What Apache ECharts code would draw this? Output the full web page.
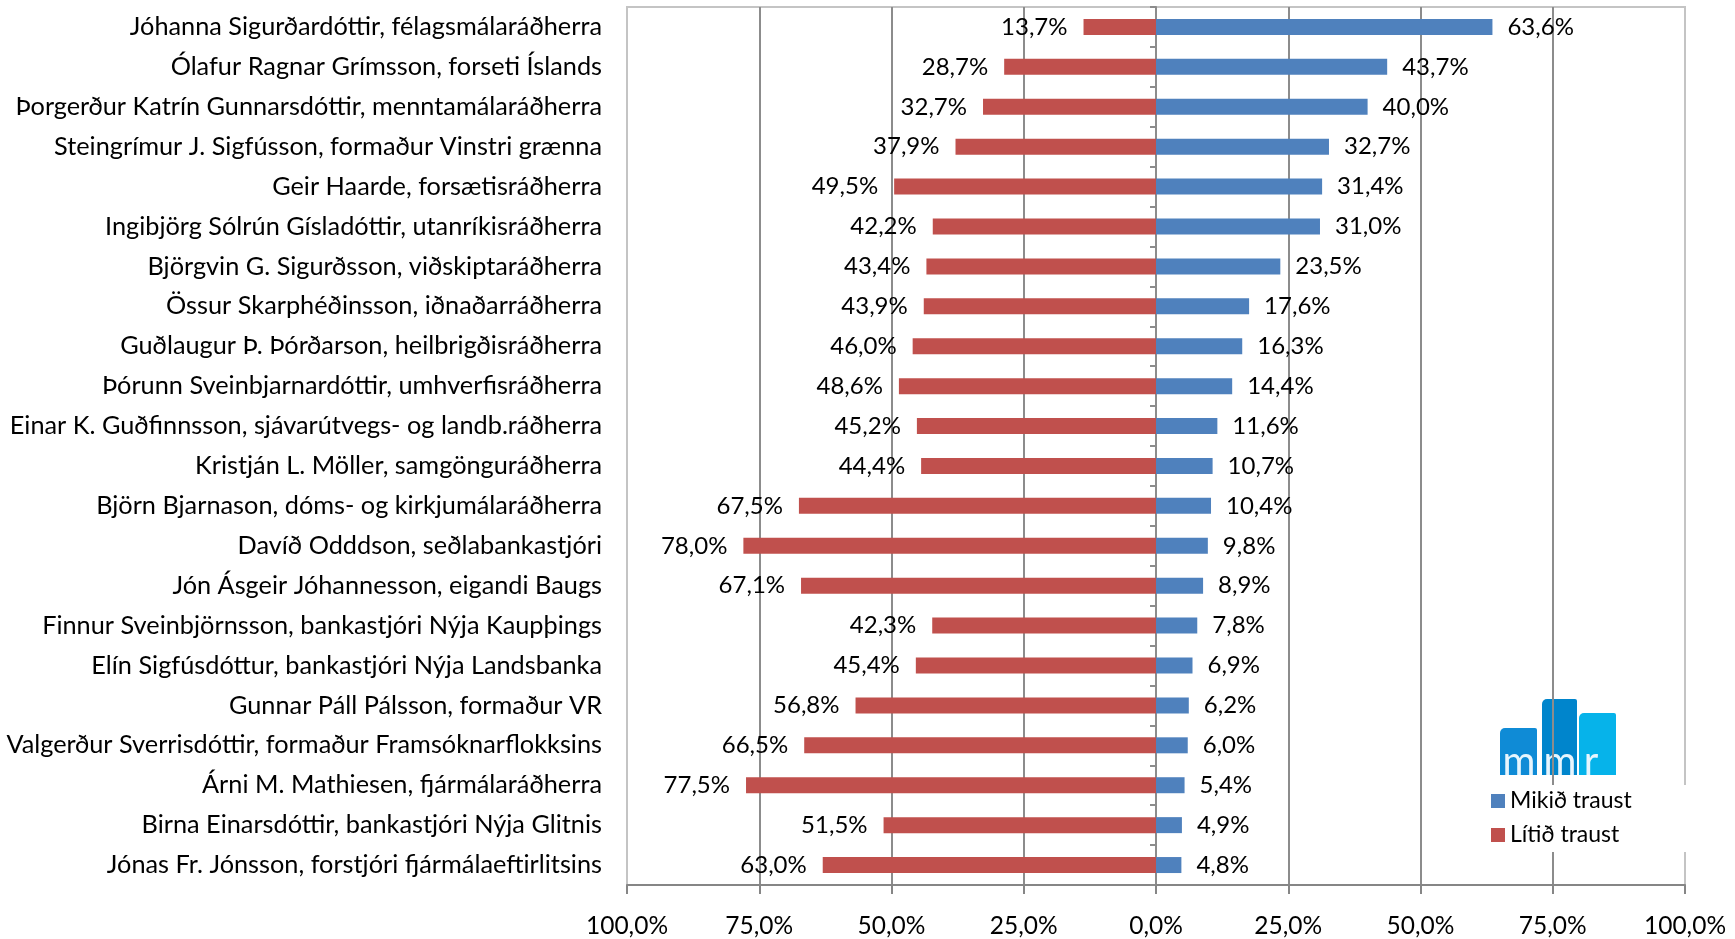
<!DOCTYPE html>
<html><head><meta charset="utf-8">
<script src="https://cdn.jsdelivr.net/npm/echarts@6/dist/echarts.min.js"></script>
<style>html,body{margin:0;padding:0;background:#fff}#c{width:1735px;height:939px}</style>
</head><body><div id="c"></div>
<script>
const categories = [
  'Jóhanna Sigurðardóttir, félagsmálaráðherra',
  'Ólafur Ragnar Grímsson, forseti Íslands',
  'Þorgerður Katrín Gunnarsdóttir, menntamálaráðherra',
  'Steingrímur J. Sigfússon, formaður Vinstri grænna',
  'Geir Haarde, forsætisráðherra',
  'Ingibjörg Sólrún Gísladóttir, utanríkisráðherra',
  'Björgvin G. Sigurðsson, viðskiptaráðherra',
  'Össur Skarphéðinsson, iðnaðarráðherra',
  'Guðlaugur Þ. Þórðarson, heilbrigðisráðherra',
  'Þórunn Sveinbjarnardóttir, umhverfisráðherra',
  'Einar K. Guðfinnsson, sjávarútvegs- og landb.ráðherra',
  'Kristján L. Möller, samgönguráðherra',
  'Björn Bjarnason, dóms- og kirkjumálaráðherra',
  'Davíð Odddson, seðlabankastjóri',
  'Jón Ásgeir Jóhannesson, eigandi Baugs',
  'Finnur Sveinbjörnsson, bankastjóri Nýja Kaupþings',
  'Elín Sigfúsdóttur, bankastjóri Nýja Landsbanka',
  'Gunnar Páll Pálsson, formaður VR',
  'Valgerður Sverrisdóttir, formaður Framsóknarflokksins',
  'Árni M. Mathiesen, fjármálaráðherra',
  'Birna Einarsdóttir, bankastjóri Nýja Glitnis',
  'Jónas Fr. Jónsson, forstjóri fjármálaeftirlitsins'
];
const mikidTraust = [63.6, 43.7, 40.0, 32.7, 31.4, 31.0, 23.5, 17.6, 16.3, 14.4, 11.6, 10.7, 10.4, 9.8, 8.9, 7.8, 6.9, 6.2, 6.0, 5.4, 4.9, 4.8];
const litidTraust = [13.7, 28.7, 32.7, 37.9, 49.5, 42.2, 43.4, 43.9, 46.0, 48.6, 45.2, 44.4, 67.5, 78.0, 67.1, 42.3, 45.4, 56.8, 66.5, 77.5, 51.5, 63.0];
const seriesNames = ['Mikið traust', 'Lítið traust'];
const xMin = -100, xMax = 100, xStep = 25;

function pct(v) { return Math.abs(v).toFixed(1).replace('.', ',') + '%'; }

const FONT = 'Lato';
const chart = echarts.init(document.getElementById('c'));
chart.setOption({
  animation: false,
  textStyle: { fontFamily: FONT },
  grid: { left: 627, right: 50, top: 7, bottom: 54, show: true, borderColor: '#c4c4c4', borderWidth: 2,
          containLabel: false, outerBoundsMode: 'none' },
  xAxis: {
    type: 'value', min: xMin, max: xMax, interval: xStep,
    axisLine: { show: true, onZero: false, lineStyle: { color: '#868686', width: 2 } },
    axisTick: { show: true, length: 9, lineStyle: { color: '#868686', width: 2 } },
    axisLabel: { formatter: pct, fontSize: 24.5, color: '#000', margin: 29, fontFamily: FONT },
    splitLine: { show: true, showMinLine: false, showMaxLine: false, lineStyle: { color: '#8c8c8c', width: 2 } }
  },
  yAxis: [
    { type: 'category', data: categories, inverse: true, position: 'left',
      axisLine: { show: false, onZero: false }, axisTick: { show: false },
      axisLabel: { fontSize: 25.3, color: '#000', margin: 25, fontFamily: FONT } },
    { type: 'category', data: categories, inverse: true, position: 'left',
      axisLine: { show: true, onZero: true, lineStyle: { color: '#8c8c8c', width: 2 } },
      axisTick: { show: true, length: 6, lineStyle: { color: '#8c8c8c', width: 2 } },
      axisLabel: { show: false } }
  ],
  legend: {
    data: seriesNames, orient: 'vertical', left: 1480, top: 785,
    backgroundColor: '#fff', padding: [2, 65, 3, 11],
    itemWidth: 14, itemHeight: 14, itemGap: 6, icon: 'rect',
    textStyle: { fontSize: 23, color: '#000', fontFamily: FONT, lineHeight: 28 }
  },
  series: [
    { name: seriesNames[0], type: 'bar', stack: 't', data: mikidTraust, barWidth: 16,
      itemStyle: { color: '#4f81bd' },
      label: { show: true, position: 'right', distance: 15, formatter: p => pct(p.value), fontSize: 24, color: '#000', fontFamily: FONT } },
    { name: seriesNames[1], type: 'bar', stack: 't', data: litidTraust.map(v => -v), barWidth: 16,
      itemStyle: { color: '#c0504d' },
      label: { show: true, position: 'left', distance: 16, formatter: p => pct(p.value), fontSize: 24, color: '#000', fontFamily: FONT } }
  ],
  graphic: [
    { type: 'group', z: 100, children: [
      { type: 'rect', shape: { x: 1500, y: 728, width: 37, height: 47, r: [5, 2, 0, 0] }, style: { fill: '#0f8bd6' } },
      { type: 'rect', shape: { x: 1542, y: 699, width: 35, height: 76, r: [5, 2, 0, 0] }, style: { fill: '#0085cc' } },
      { type: 'rect', shape: { x: 1579, y: 713, width: 37, height: 62, r: [5, 2, 0, 0] }, style: { fill: '#06b3ea' } },
      { type: 'text', x: 1519, y: 762, style: { text: 'm', fill: '#e8f5fd', font: '40px Lato', align: 'center', verticalAlign: 'middle' } },
      { type: 'text', x: 1560, y: 762, style: { text: 'm', fill: '#e8f5fd', font: '40px Lato', align: 'center', verticalAlign: 'middle' } },
      { type: 'text', x: 1591, y: 762, style: { text: 'r', fill: '#e8f5fd', font: '40px Lato', align: 'center', verticalAlign: 'middle' } }
    ] }
  ]
});
</script></body></html>
